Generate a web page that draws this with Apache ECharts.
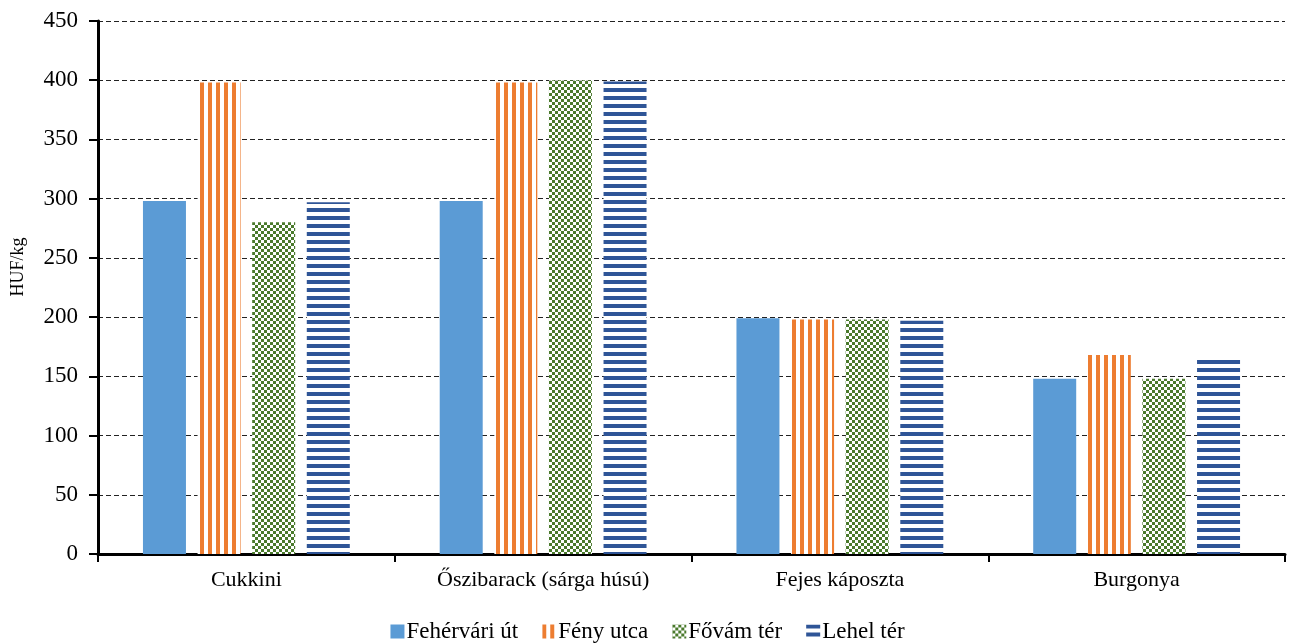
<!DOCTYPE html>
<html>
<head>
<meta charset="utf-8">
<script src="https://cdn.jsdelivr.net/npm/echarts@6/dist/echarts.min.js"></script>
<style>
html,body{margin:0;padding:0;background:#fff;}
#chart{width:1295px;height:644px;}
</style>
</head>
<body>
<div id="chart"></div>
<script>
const categories = ['Cukkini', 'Őszibarack (sárga húsú)', 'Fejes káposzta', 'Burgonya'];
const seriesNames = ['Fehérvári út', 'Fény utca', 'Fővám tér', 'Lehel tér'];
const fehervariUt = [298, 298, 199, 148];
const fenyUtca = [398, 398, 198, 168];
const fovamTer = [280, 400, 198, 148];
const lehelTer = [297, 399, 197, 167];
const yTicks = { min: 0, max: 450, interval: 50 };
const yTitle = 'HUF/kg';

function makeCanvas(w, h, draw) {
  const c = document.createElement('canvas');
  c.width = w; c.height = h;
  const ctx = c.getContext('2d');
  ctx.fillStyle = '#ffffff';
  ctx.fillRect(0, 0, w, h);
  draw(ctx);
  return c;
}
const orangePat = makeCanvas(8, 8, ctx => { ctx.fillStyle = '#ED7D31'; ctx.fillRect(0, 0, 4, 8); });
const greenPat = makeCanvas(6, 6, ctx => { ctx.fillStyle = '#4A7A2C'; ctx.fillRect(0, 0, 3, 3); ctx.fillRect(3, 3, 3, 3); });
const bluePat = makeCanvas(8, 8, ctx => { ctx.fillStyle = '#2F5597'; ctx.fillRect(0, 0, 8, 4); });

const fills = [
  '#5B9BD5',
  { image: orangePat, repeat: 'repeat' },
  { image: greenPat, repeat: 'repeat' },
  { image: bluePat, repeat: 'repeat' }
];
const values = [fehervariUt, fenyUtca, fovamTer, lehelTer];
const font = 'Liberation Serif, Times New Roman, serif';

const chart = echarts.init(document.getElementById('chart'));
chart.setOption({
  animation: false,
  backgroundColor: '#ffffff',
  textStyle: { fontFamily: font, color: '#000' },
  grid: { left: 98, right: 10, top: 21, bottom: 90 },
  graphic: [{
    type: 'text',
    x: 18, y: 267,
    rotation: Math.PI / 2,
    style: { text: yTitle, fontFamily: font, fontSize: 18, fill: '#000', align: 'center', verticalAlign: 'middle' }
  }],
  legend: {
    top: 615,
    left: 'center',
    itemWidth: 14,
    itemHeight: 14,
    itemGap: 24,
    icon: 'rect',
    textStyle: { fontFamily: font, fontSize: 23, color: '#000', padding: [0, 0, 0, -3] },
    data: seriesNames
  },
  xAxis: {
    type: 'category',
    data: categories,
    axisLine: { lineStyle: { color: '#000', width: 3 } },
    axisTick: { show: true, length: 8, lineStyle: { color: '#000', width: 2 } },
    axisLabel: { fontFamily: font, fontSize: 22, color: '#000', margin: 15 }
  },
  yAxis: {
    type: 'value',
    min: yTicks.min, max: yTicks.max, interval: yTicks.interval,
    axisLine: { show: true, lineStyle: { color: '#000', width: 3 } },
    axisTick: { show: true, length: 9, lineStyle: { color: '#000', width: 2 } },
    axisLabel: { fontFamily: font, fontSize: 23, color: '#000', margin: 20 },
    splitLine: { show: true, lineStyle: { color: '#222', width: 1, type: [5, 3] } }
  },
  series: seriesNames.map((n, i) => ({
    name: n,
    type: 'bar',
    data: values[i],
    barWidth: 43,
    barGap: '27%',
    itemStyle: { color: fills[i] }
  }))
});
</script>
</body>
</html>
